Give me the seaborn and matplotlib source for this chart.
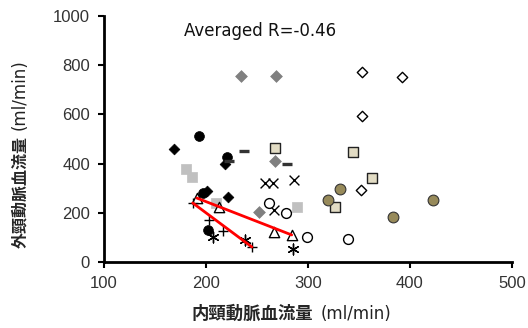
import matplotlib
matplotlib.use("Agg")
import matplotlib.pyplot as plt
import seaborn as sns
import pandas as pd

# ---- data ----
gray_dia_x = [234, 269, 268, 252]
gray_dia_y = [756, 756, 410, 203]
black_dia_x = [169, 219, 222, 201]
black_dia_y = [459, 398, 264, 289]
black_circ_x = [193, 221, 197, 202]
black_circ_y = [512, 427, 280, 130]
dash_x = [237, 279, 223, 278]
dash_y = [451, 398, 411, 199]
beige_sq_x = [268, 344, 363, 326]
beige_sq_y = [463, 447, 341, 224]
olive_circ_x = [331, 320, 423, 383]
olive_circ_y = [297, 252, 252, 183]
white_dia_x = [353, 392, 353, 352]
white_dia_y = [772, 752, 593, 293]
lgray_sq_x = [180, 186, 210, 289]
lgray_sq_y = [378, 346, 240, 224]
cross_x = [258, 266, 286, 267]
cross_y = [321, 321, 333, 211]
open_circ_x = [262, 278, 299, 339]
open_circ_y = [240, 199, 102, 92]
tri_x = [191, 213, 267, 284]
tri_y = [260, 224, 122, 110]
plus_x = [187, 203, 217, 245]
plus_y = [240, 171, 126, 61]
star_x = [207, 238, 285]
star_y = [102, 89, 53]

line1_x = [187, 245]
line1_y = [240, 61]
line2_x = [191, 284]
line2_y = [260, 110]

x_ticks = [100, 200, 300, 400, 500]
y_ticks = [0, 200, 400, 600, 800, 1000]
annot = "Averaged R=-0.46"
xlabel_cjk = "内頸動脈血流量"
ylabel_cjk = "外頸動脈血流量"
unit = "(ml/min)"

sns.set_theme(style="white")
plt.rcParams['font.family'] = ['Liberation Sans', 'Noto Sans CJK JP', 'DejaVu Sans']

fig = plt.figure(figsize=(5.28, 3.28), dpi=100)
ax = fig.add_axes([104/528, 1-262/328, (512-104)/528, (262-16)/328])

series = [
    (gray_dia_x, gray_dia_y, dict(marker='D', s=36, color='#808080', edgecolor='#808080', linewidth=0.5)),
    (black_dia_x, black_dia_y, dict(marker='D', s=30, color='black', edgecolor='black', linewidth=0.5)),
    (black_circ_x, black_circ_y, dict(marker='o', s=50, color='black', edgecolor='black', linewidth=0.5)),
    (dash_x, dash_y, dict(marker='_', s=60, color='#333333', linewidth=2.4)),
    (beige_sq_x, beige_sq_y, dict(marker='s', s=55, color='#e2dcc4', edgecolor='#222222', linewidth=1.0)),
    (olive_circ_x, olive_circ_y, dict(marker='o', s=60, color='#978a5a', edgecolor='#333333', linewidth=0.8)),
    (white_dia_x, white_dia_y, dict(marker='D', s=28, color='white', edgecolor='black', linewidth=1.0)),
    (lgray_sq_x, lgray_sq_y, dict(marker='s', s=60, color='#c0c0c0', edgecolor='#c0c0c0', linewidth=0.5)),
    (cross_x, cross_y, dict(marker='x', s=50, color='black', linewidth=1.0)),
    (open_circ_x, open_circ_y, dict(marker='o', s=50, color='white', edgecolor='black', linewidth=1.0)),
    (tri_x, tri_y, dict(marker='^', s=55, color='white', edgecolor='black', linewidth=1.0)),
    (plus_x, plus_y, dict(marker='+', s=55, color='black', linewidth=1.0)),
    (star_x, star_y, dict(marker=(6, 2, 0), s=60, color='black', linewidth=1.0)),
]
for xs, ys, kw in series:
    df = pd.DataFrame({'x': xs, 'y': ys})
    sns.scatterplot(data=df, x='x', y='y', ax=ax, legend=False, zorder=3, **kw)

for lx, ly in [(line1_x, line1_y), (line2_x, line2_y)]:
    ax.plot(lx, ly, color='#ff0000', linewidth=2.0, zorder=4)

ax.set_xlim(100, 500)
ax.set_ylim(0, 1000)
ax.set_xticks(x_ticks)
ax.set_yticks(y_ticks)
ax.set_xlabel('')
ax.set_ylabel('')
for s in ['top', 'right']:
    ax.spines[s].set_visible(False)
for s in ['left', 'bottom']:
    ax.spines[s].set_color('black')
    ax.spines[s].set_linewidth(2.0)
ax.tick_params(axis='both', direction='out', length=4, width=1.5, color='black',
               labelsize=12, labelcolor='#333333', pad=6, bottom=True, left=True)
ax.grid(False)

ax.text(178, 938, annot, fontsize=12, ha='left', va='center', color='#111111',
        family=['DejaVu Sans'])

# axis labels: bold CJK part + normal unit part
fig.text(313/528, 1-314/328, xlabel_cjk, fontsize=12.5, fontweight='bold',
         ha='right', va='center', family=['Noto Sans CJK JP'])
fig.text(321/528, 1-314/328, unit, fontsize=12, ha='left', va='center',
         family=['DejaVu Sans'], color='#222222')
fig.text(20/528, 1-248/328, ylabel_cjk, fontsize=11.5, fontweight='bold', rotation=90,
         ha='center', va='bottom', family=['Noto Sans CJK JP'])
fig.text(20/528, 1-130/328, unit, fontsize=12, rotation=90, ha='center', va='bottom',
         family=['DejaVu Sans'], color='#222222')

fig.savefig('out.png', dpi=100)
